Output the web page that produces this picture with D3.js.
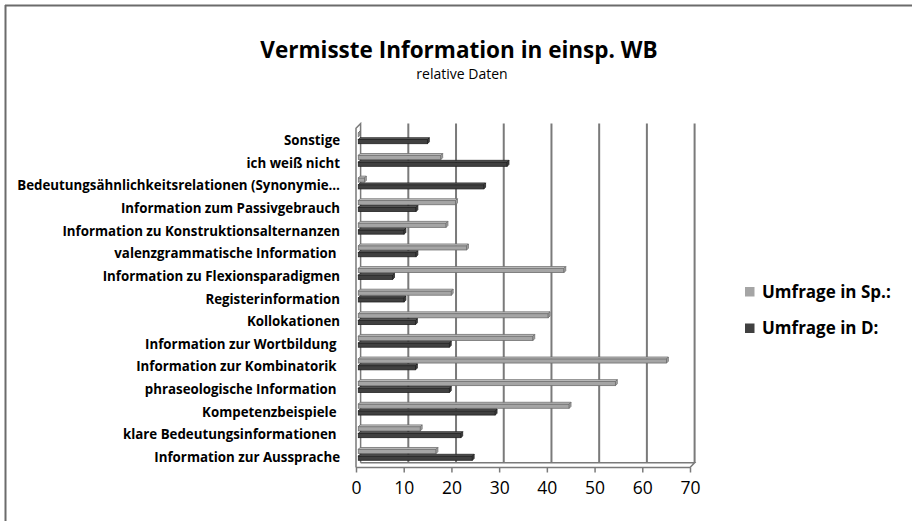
<!DOCTYPE html>
<html>
<head>
<meta charset="utf-8">
<script src="https://cdn.jsdelivr.net/npm/d3@7"></script>
<style>
  body { margin: 0; background: #fff; }
  svg { display: block; }
  text { font-family: "Open Sans", Lato, sans-serif; fill: #000; }
  .cat text { white-space: pre; }
</style>
</head>
<body>
<div class="chart"></div>
<script>
'use strict';

// categories in sheet order (first one sits at the bottom)
var categories = [
  'Information zur Aussprache',
  'klare Bedeutungsinformationen ',
  'Kompetenzbeispiele ',
  'phraseologische Information ',
  'Information zur Kombinatorik ',
  'Information zur Wortbildung ',
  'Kollokationen',
  'Registerinformation',
  'Information zu Flexionsparadigmen',
  'valenzgrammatische Information ',
  'Information zu Konstruktionsalternanzen',
  'Information zum Passivgebrauch',
  'Bedeutungsähnlichkeitsrelationen (Synonymie…',
  'ich weiß nicht',
  'Sonstige'
];
var seriesNames = ['Umfrage in Sp.:', 'Umfrage in D:'];
var valuesSp = [16.3, 13.0, 44.2, 53.9, 64.6, 36.6, 39.8, 19.5, 43.1, 22.7, 18.4, 20.4, 1.3, 17.3, 0];
var valuesD = [23.9, 21.5, 28.7, 19.1, 12.0, 19.1, 12.0, 9.6, 7.2, 12.1, 9.6, 12.1, 26.3, 31.2, 14.5];
var xTicks = [0, 10, 20, 30, 40, 50, 60, 70];

var width = 912;
var height = 521;
var depth = { dx: 4.6, dy: -4.8 };   // offset from front edge to back wall
var colors = {
  fill: ['#a5a5a5', '#404040'],
  top: ['#c6c6c6', '#5e5e5e'],
  stroke: ['#6f6f6f', '#222']
};

var svg = d3.select('.chart').append('svg')
  .attr('width', width).attr('height', height);

// outer frame (only top and left edges show)
svg.append('line').attr('x1', 5).attr('x2', width).attr('y1', 5.5).attr('y2', 5.5)
  .attr('stroke', '#6b6b6b').attr('stroke-width', 2);
svg.append('line').attr('x1', 5.5).attr('x2', 5.5).attr('y1', 5).attr('y2', height)
  .attr('stroke', '#6b6b6b').attr('stroke-width', 2);

// titles
svg.append('text').attr('x', 459).attr('y', 58).attr('text-anchor', 'middle')
  .style('font-size', '22.5px').style('font-weight', 'bold')
  .text('Vermisste Information in einsp. WB');
svg.append('text').attr('x', 462).attr('y', 79).attr('text-anchor', 'middle')
  .style('font-size', '14px')
  .text('relative Daten');

// front scales
var x = d3.scaleLinear().domain([0, 70]).range([356, 690]);
var y = d3.scaleBand().domain(categories.slice().reverse()).range([128.3, 467.5]);
var ys = d3.scaleBand().domain([0, 1]).range([0, 12]);

var plot = svg.append('g');

// back wall gridlines
plot.selectAll('line.grid').data(xTicks.slice(1)).enter().append('line')
  .attr('class', 'grid')
  .attr('x1', function (d) { return x(d) + depth.dx; })
  .attr('x2', function (d) { return x(d) + depth.dx; })
  .attr('y1', y.range()[0] + depth.dy)
  .attr('y2', y.range()[1] + depth.dy)
  .attr('stroke', '#7a7a7a').attr('stroke-width', 2);

// left wall
var x0 = x(0);
var yt = y.range()[0];
var yb = y.range()[1];
plot.append('path')
  .attr('d', 'M' + x0 + ',' + yb + 'L' + x0 + ',' + yt +
    'L' + (x0 + depth.dx) + ',' + (yt + depth.dy) +
    'L' + (x0 + depth.dx) + ',' + (yb + depth.dy))
  .attr('fill', 'none').attr('stroke', '#7a7a7a').attr('stroke-width', 1.5);

// floor
var x70 = x(70);
plot.append('path')
  .attr('d', 'M' + x0 + ',' + yb + 'L' + x70 + ',' + yb +
    'L' + (x70 + depth.dx) + ',' + (yb + depth.dy) +
    'L' + (x0 + depth.dx) + ',' + (yb + depth.dy))
  .attr('fill', 'none').attr('stroke', '#7a7a7a').attr('stroke-width', 1.5);

// x axis ticks + labels on the front edge
var xAxis = d3.axisBottom(x).tickValues(xTicks).tickSize(5).tickPadding(9);
var gx = svg.append('g').attr('transform', 'translate(0,' + yb + ')').call(xAxis);
gx.select('.domain').remove();
gx.selectAll('line').attr('stroke', '#7a7a7a').attr('stroke-width', 1.5);
gx.selectAll('text').style('font-family', '"Open Sans", sans-serif').style('font-size', '17.5px').attr('fill', '#000');

// bars sit half way into the depth
var mid = { dx: depth.dx / 2, dy: depth.dy / 2 };
var t = 1.8;
var barData = [];
categories.forEach(function (c, i) {
  [valuesSp[i], valuesD[i]].forEach(function (v, s) {
    barData.push({ cat: c, s: s, v: v });
  });
});

var bars = plot.selectAll('g.bar').data(barData).enter().append('g').attr('class', 'bar');
bars.each(function (d) {
  var g = d3.select(this);
  var bx0 = x(0) + mid.dx;
  var bx1 = x(d.v) + mid.dx;
  var c = y(d.cat) + y.bandwidth() / 2 + mid.dy;
  var top = c - 6 + ys(d.s) + (d.s ? 0.5 : -0.3);
  var bot = top + ys.bandwidth();
  // front face
  g.append('rect').attr('x', bx0).attr('y', top + t)
    .attr('width', Math.max(0, bx1 - bx0)).attr('height', bot - top - t)
    .attr('fill', colors.fill[d.s]).attr('stroke', colors.stroke[d.s]).attr('stroke-width', 0.8);
  // top face
  g.append('path')
    .attr('d', 'M' + bx0 + ',' + (top + t) + 'L' + bx1 + ',' + (top + t) +
      'L' + (bx1 + t) + ',' + top + 'L' + (bx0 + t) + ',' + top + 'Z')
    .attr('fill', colors.top[d.s]).attr('stroke', colors.stroke[d.s]).attr('stroke-width', 0.8);
  // end face
  g.append('path')
    .attr('d', 'M' + bx1 + ',' + (top + t) + 'L' + (bx1 + t) + ',' + top +
      'L' + (bx1 + t) + ',' + (bot - t) + 'L' + bx1 + ',' + bot + 'Z')
    .attr('fill', colors.fill[d.s]).attr('stroke', colors.stroke[d.s]).attr('stroke-width', 0.8);
});

// category labels
var cat = svg.append('g').attr('class', 'cat');
cat.selectAll('text').data(categories).enter().append('text')
  .attr('x', 340)
  .attr('y', function (d) { return y(d) + y.bandwidth() / 2 + 1; })
  .attr('dy', '0.35em')
  .attr('text-anchor', 'end')
  .style('font-size', '13.3px').style('font-weight', 'bold')
  .text(function (d) { return d; });

// legend
var legend = svg.append('g').attr('transform', 'translate(745,287)');
var li = legend.selectAll('g').data(seriesNames).enter().append('g')
  .attr('transform', function (d, i) { return 'translate(0,' + i * 36.5 + ')'; });
li.append('rect').attr('width', 9.5).attr('height', 9.5)
  .attr('fill', function (d, i) { return colors.fill[i]; });
li.append('text').attr('x', 17).attr('y', 5).attr('dy', '0.35em')
  .style('font-size', '17px').style('font-weight', 'bold')
  .text(function (d) { return d; });
</script>
</body>
</html>
